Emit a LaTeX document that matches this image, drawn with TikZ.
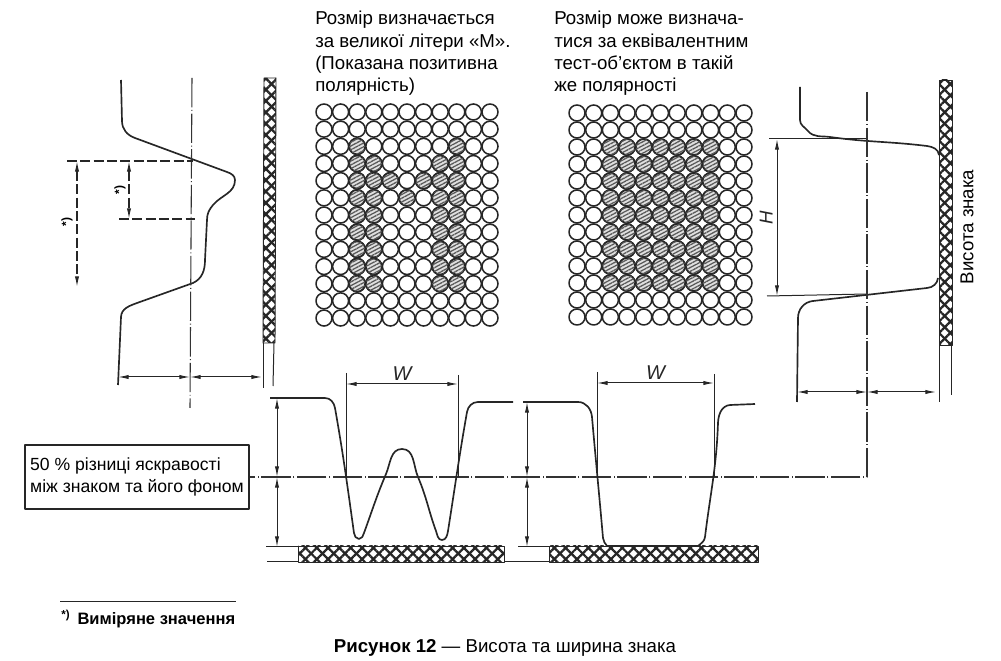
\documentclass[tikz,border=0pt]{standalone}
\usepackage{fontspec}
\setmainfont{Liberation Sans}
\usetikzlibrary{arrows.meta, patterns, patterns.meta}

\begin{document}
\begin{tikzpicture}[x=0.75pt, y=0.75pt, line join=round,
    curve/.style={line width=1.25pt, black!85},
    thin line/.style={line width=0.75pt, black!85},
    dim/.style={thin line, {Latex[length=8pt,width=3.2pt]}-{Latex[length=8pt,width=3.2pt]}},
    dashdim/.style={dim, line width=0.9pt, dash pattern=on 7.5pt off 2.5pt},
    dashtick/.style={line width=1pt, black!85, dash pattern=on 7.5pt off 2.5pt},
    centre/.style={line width=0.8pt, black!80, dash pattern=on 22pt off 2pt on 0.7pt off 2pt},
    hatchbar/.style={draw=black!85, line width=0.7pt, fill=white,
      preaction={fill=white},
      postaction={pattern={Lines[angle=45,distance=6pt,line width=1.7pt]}, pattern color=black!85},
      postaction={pattern={Lines[angle=-45,distance=6pt,line width=1.7pt]}, pattern color=black!85}},
    cell/.style={draw=black!85, line width=1.15pt, fill=white},
    hatchcell/.style={draw=black!85, line width=1.3pt, fill=black!12,
      postaction={pattern={Lines[angle=28,distance=2.5pt,line width=0.95pt]}, pattern color=black!65}},
    label/.style={inner sep=0pt, align=left, anchor=north west, font=\fontsize{14}{16.7}\selectfont},
    small/.style={inner sep=0pt, font=\fontsize{14}{16}\selectfont}]
    \useasboundingbox (0,0) rectangle (1001,661);

    % left profile
    \coordinate (l1) at (121,581);
    \coordinate (l2) at (122,540);
    \coordinate (l3) at (135,523);
    \coordinate (l4) at (227,489);
    \coordinate (l5) at (235,481);
    \coordinate (l6) at (213,456);
    \coordinate (l7) at (207,441);
    \coordinate (l8) at (205,401);
    \coordinate (l9) at (193,378);
    \coordinate (l10) at (137,358);
    \coordinate (l11) at (121,344);
    \coordinate (l12) at (118,276);
    \draw[curve] (l1) -- (l2) to[out=-90, in=160] (l3) -- (l4) to[out=-20, in=90] (l5)
      to[out=-90, in=50] (l6) to[out=230, in=90] (l7) -- (l8) to[out=-90, in=25] (l9)
      -- (l10) to[out=200, in=88] (l11) -- (l12);

    \coordinate (lc1) at (192,583);
    \coordinate (lc2) at (190,253);
    \draw[centre] (lc1) -- (lc2);

    \coordinate (ld1) at (67,500);
    \coordinate (ld2) at (193,500);
    \coordinate (ld3) at (119,442);
    \coordinate (ld4) at (195,442);
    \draw[dashtick] (ld1) -- (ld2);
    \draw[dashtick] (ld3) -- (ld4);
    \coordinate (ld5) at (77,500);
    \coordinate (ld6) at (77,374);
    \coordinate (ld7) at (129,500);
    \coordinate (ld8) at (129,442);
    \draw[dashdim] (ld5) -- (ld6);
    \draw[dashdim] (ld7) -- (ld8);
    \node[inner sep=0pt, rotate=90, font=\fontsize{9}{10}\selectfont\bfseries] (star1) at (67,439) {*)};
    \node[inner sep=0pt, rotate=90, font=\fontsize{9}{10}\selectfont\bfseries] (star2) at (120,471) {*)};

    \coordinate (lb1) at (118,284);
    \coordinate (lb2) at (190,284);
    \coordinate (lb3) at (262,284);
    \draw[dim] (lb1) -- (lb2);
    \draw[dim] (lb2) -- (lb3);

    \coordinate (ls1) at (263,318);
    \coordinate (ls2) at (263,273);
    \coordinate (ls3) at (274,318);
    \coordinate (ls4) at (273,275);
    \draw[thin line] (ls1) -- (ls2);
    \draw[thin line] (ls3) -- (ls4);
    \draw[hatchbar] (264,583) -- (276,583) -- (275,318) -- (263,318) -- cycle;

    % character grids
    \node[label] (txt1) at (315,650) {Розмір визначається\\за великої літери «М».\\(Показана позитивна\\полярність)};
    \node[label] (txt2) at (554,650) {Розмір може визнача-\\тися за еквівалентним\\тест-об'єктом в такій\\же полярності};

    \foreach \c in {0,...,10} \foreach \r in {0,...,12} {
      \draw[cell] (324+16.6*\c, 549-17.17*\r) circle (8);
      \draw[cell] (577+16.7*\c, 548-17*\r) circle (8);
    }
    \foreach \r in {3,...,10} \foreach \c in {2,3,7,8}
      \draw[hatchcell] (324+16.6*\c, 549-17.17*\r) circle (8);
    \foreach \c/\r in {2/2, 8/2, 4/4, 6/4, 5/5}
      \draw[hatchcell] (324+16.6*\c, 549-17.17*\r) circle (8);
    \foreach \r in {2,...,10} \foreach \c in {2,...,8}
      \draw[hatchcell] (577+16.7*\c, 548-17*\r) circle (8);

    % right profile
    \coordinate (r1) at (800,574);
    \coordinate (r2) at (800,541);
    \coordinate (r3) at (808,530);
    \coordinate (r4) at (830,524);
    \coordinate (r5) at (927,515);
    \coordinate (r6) at (939,506);
    \coordinate (r7) at (938,383);
    \coordinate (r8) at (927,373);
    \coordinate (r9) at (813,360);
    \coordinate (r10) at (798,343);
    \coordinate (r11) at (797,259);
    \draw[curve] (r1) -- (r2) to[out=-90, in=130] (r3) to[out=-50, in=172] (r4) to[out=-8, in=173] (r5) to[out=-7, in=95] (r6);
    \draw[curve] (r7) to[out=-95, in=5] (r8) -- (r9) to[out=186, in=90] (r10) -- (r11);

    \coordinate (h1) at (769,522);
    \coordinate (h2) at (867,522);
    \coordinate (h3) at (767,365);
    \coordinate (h4) at (867,367);
    \draw[thin line] (h1) -- (h2);
    \draw[thin line] (h3) -- (h4);
    \coordinate (hd1) at (777,522);
    \coordinate (hd2) at (777,365);
    \draw[dim] (hd1) -- node[inner sep=0pt, rotate=90, anchor=south, yshift=3pt, font=\fontsize{14}{16}\selectfont\itshape] (hlabel) {H} (hd2);

    \coordinate (rb1) at (797,269);
    \coordinate (rb2) at (867,269);
    \coordinate (rb3) at (936,269);
    \draw[dim] (rb1) -- (rb2);
    \draw[dim] (rb2) -- (rb3);

    \coordinate (rs1) at (939,316);
    \coordinate (rs2) at (939,259);
    \coordinate (rs3) at (951,316);
    \coordinate (rs4) at (951,266);
    \draw[thin line] (rs1) -- (rs2);
    \draw[thin line] (rs3) -- (rs4);
    \draw[hatchbar] (939,581) rectangle (952,316);
    \node[small, rotate=90] (height) at (967,434) {Висота знака};

    % note box and 50 % line
    \node[draw=black!85, line width=0.8pt, minimum width=168pt, minimum height=48pt, inner sep=1pt,
      align=left, font=\fontsize{13.2}{17}\selectfont] (note) at (137,184)
      {50 \% різниці яскравості\\між знаком та його фоном};
    \coordinate (c1) at (867,569);
    \coordinate (c2) at (867,184);
    \draw[centre, line width=1pt] (c1) -- (c2) -- (note.east);

    % bottom profile, letter M
    \coordinate (w1) at (270,263);
    \coordinate (w2) at (325,263);
    \coordinate (w3) at (335,253);
    \coordinate (w4) at (354,128);
    \coordinate (w5) at (359,122);
    \coordinate (w6) at (364,128);
    \coordinate (w7) at (386,187);
    \coordinate (w8) at (402,212);
    \coordinate (w9) at (418,184);
    \coordinate (w10) at (436,130);
    \coordinate (w11) at (442,121);
    \coordinate (w12) at (448,130);
    \coordinate (w13) at (467,249);
    \coordinate (w14) at (478,259);
    \coordinate (w15) at (513,259);
    \draw[curve] (w1) -- (w2) to[out=0, in=100] (w3) to[out=-80, in=98] (w4) to[out=-82, in=180] (w5)
      to[out=0, in=-110] (w6) to[out=70, in=-113] (w7) to[out=67, in=180] (w8) to[out=0, in=113] (w9)
      to[out=-67, in=110] (w10) to[out=-70, in=180] (w11) to[out=0, in=-100] (w12)
      to[out=81, in=-100] (w13) to[out=80, in=180] (w14) -- (w15);

    % bottom profile, test object
    \coordinate (s1) at (523,259);
    \coordinate (s2) at (578,259);
    \coordinate (s3) at (592,244);
    \coordinate (s4) at (603,123);
    \coordinate (s5) at (607,115);
    \coordinate (s6) at (698,115);
    \coordinate (s7) at (705,124);
    \coordinate (s8) at (718,238);
    \coordinate (s9) at (730,256);
    \coordinate (s10) at (755,257);
    \draw[curve] (s1) -- (s2) to[out=0, in=95] (s3) to[out=-85, in=95] (s4) to[out=-85, in=125] (s5)
      -- (s6) to[out=40, in=-97] (s7) to[out=83, in=-92] (s8) to[out=88, in=185] (s9) -- (s10);

    % W dimensions
    \coordinate (a1) at (346,288);
    \coordinate (a2) at (346,184);
    \coordinate (a3) at (458,286);
    \coordinate (a4) at (458,184);
    \coordinate (a5) at (597,289);
    \coordinate (a6) at (597,184);
    \coordinate (a7) at (714,287);
    \coordinate (a8) at (714,184);
    \foreach \i/\j in {a1/a2, a3/a4, a5/a6, a7/a8} \draw[thin line] (\i) -- (\j);
    \coordinate (wa) at (346,277);
    \coordinate (wb) at (458,277);
    \coordinate (wc) at (597,278);
    \coordinate (wd) at (714,278);
    \draw[dim] (wa) -- node[inner sep=0pt, above=2pt, font=\fontsize{15}{16}\selectfont\itshape] (wlabel1) {W} (wb);
    \draw[dim] (wc) -- node[inner sep=0pt, above=2pt, font=\fontsize{15}{16}\selectfont\itshape] (wlabel2) {W} (wd);

    % height dimensions
    \coordinate (v1) at (277,263);
    \coordinate (v2) at (277,184);
    \coordinate (v3) at (277,114);
    \coordinate (v4) at (527,259);
    \coordinate (v5) at (527,184);
    \coordinate (v6) at (527,114);
    \draw[dim] (v1) -- (v2);
    \draw[dim] (v2) -- (v3);
    \draw[dim] (v4) -- (v5);
    \draw[dim] (v5) -- (v6);

    \coordinate (b1) at (266,114);
    \coordinate (b2) at (298,114);
    \coordinate (b3) at (267,99);
    \coordinate (b4) at (298,99);
    \coordinate (b5) at (518,114);
    \coordinate (b6) at (549,114);
    \coordinate (b7) at (504,99);
    \coordinate (b8) at (549,99);
    \foreach \i/\j in {b1/b2, b3/b4, b5/b6, b7/b8} \draw[thin line] (\i) -- (\j);
    \draw[hatchbar] (298,115) rectangle (504,99);
    \draw[hatchbar] (549,115) rectangle (758,99);

    % footnote and caption
    \coordinate (f1) at (60,59);
    \coordinate (f2) at (236,59);
    \draw[thin line] (f1) -- (f2);
    \node[inner sep=0pt, anchor=west, font=\fontsize{12.4}{13}\selectfont\bfseries] (foot) at (61,42) {\textsuperscript{*)}\hspace{2pt} Виміряне значення};
    \node[inner sep=0pt, font=\fontsize{14}{15}\selectfont] (caption) at (505,13) {\textbf{Рисунок 12} --- Висота та ширина знака};
  \end{tikzpicture}
\end{document}
